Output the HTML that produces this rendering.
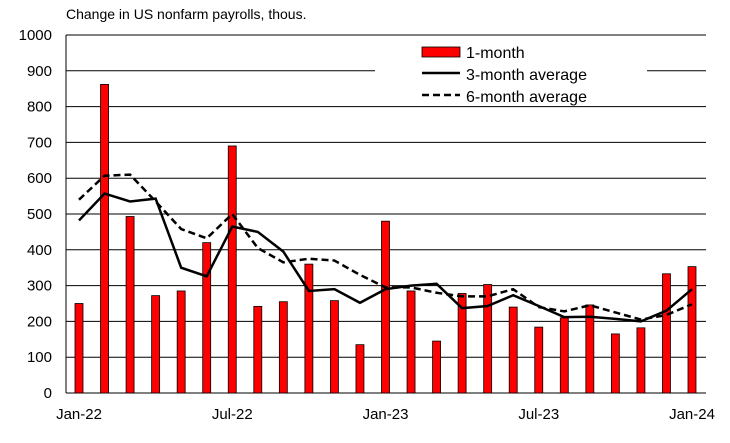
<!DOCTYPE html>
<html><head><meta charset="utf-8"><style>
body{margin:0;background:#fff;}
svg{display:block;font-family:"Liberation Sans",Arial,sans-serif;}
</style></head><body>
<svg id="chart" width="730" height="443"></svg>
<script>
const months=["Jan-22","Feb-22","Mar-22","Apr-22","May-22","Jun-22","Jul-22","Aug-22","Sep-22","Oct-22","Nov-22","Dec-22","Jan-23","Feb-23","Mar-23","Apr-23","May-23","Jun-23","Jul-23","Aug-23","Sep-23","Oct-23","Nov-23","Dec-23","Jan-24"];
const oneMonth=[250,862,493,272,285,420,690,242,255,360,258,135,480,285,145,278,303,240,184,210,246,165,182,333,353];
const threeMonth=[482,557,535,543,350,326,465,450,395,285,290,252,290,300,305,237,243,273,243,212,213,207,200,230,290];
const sixMonth=[540,607,610,535,458,432,500,405,365,375,370,330,295,295,280,270,270,290,240,228,245,225,205,218,248];
const yTicks=[0,100,200,300,400,500,600,700,800,900,1000];
const xLabels=["Jan-22","Jul-22","Jan-23","Jul-23","Jan-24"];

const NS="http://www.w3.org/2000/svg";
const svg=document.getElementById('chart');
const X0=66,X1=706,Y0=393,Y1=35;
const xs=i=>79+i*(692-79)/24;
const ys=v=>Y0-(v/1000)*(Y0-Y1);
function mk(t,a,p){const e=document.createElementNS(NS,t);for(const k in a)e.setAttribute(k,a[k]);(p||svg).appendChild(e);return e;}

const title=mk('text',{x:66,y:19,'font-size':14,fill:'#000'});title.textContent='Change in US nonfarm payrolls, thous.';



yTicks.forEach(v=>{
  if(v>0){const g=mk('line',{x1:X0,x2:X1,y1:ys(v),y2:ys(v),stroke:'#000','stroke-width':1});
  
  }
  const t=mk('text',{x:52,y:ys(v)+5,'font-size':15,'text-anchor':'end'});t.textContent=v;
  
  
});
const ax=mk('line',{x1:X0,x2:X0,y1:Y1,y2:Y0,stroke:'#000','stroke-width':1});


const bx=mk('line',{x1:X0,x2:X1,y1:Y0,y2:Y0,stroke:'#000','stroke-width':1});



months.forEach((m,i)=>{
  const b=mk('rect',{x:xs(i)-4,y:ys(oneMonth[i]),width:8,height:Y0-ys(oneMonth[i]),fill:'#f00',stroke:'#000','stroke-width':0.8});
  
  
  const idx=xLabels.indexOf(m);
  if(idx>=0){const t=mk('text',{x:xs(i),y:419,'font-size':15,'text-anchor':'middle'});t.textContent=m;
  
  }
});
function line(arr,dash,name){
  const p=mk('polyline',{points:arr.map((v,i)=>xs(i)+','+ys(v)).join(' '),fill:'none',stroke:'#000','stroke-width':2.5,'stroke-dasharray':dash});
  
  
}
line(sixMonth,'7,4','six-month-line');
line(threeMonth,'none','three-month-line');

const lg=mk('g',{});


mk('rect',{x:375,y:40,width:272,height:64,fill:'#fff'},lg);
mk('rect',{x:422,y:47,width:38,height:10,fill:'#f00',stroke:'#000','stroke-width':0.8},lg);
mk('line',{x1:422,x2:460,y1:73,y2:73,stroke:'#000','stroke-width':2.5},lg);
mk('line',{x1:422,x2:460,y1:95,y2:95,stroke:'#000','stroke-width':2.5,'stroke-dasharray':'7,4'},lg);
[['1-month',58],['3-month average',80],['6-month average',102]].forEach(([s,y])=>{
  const t=mk('text',{x:466,y:y,'font-size':16},lg);t.textContent=s;
  
  
});
</script>
</body></html>
